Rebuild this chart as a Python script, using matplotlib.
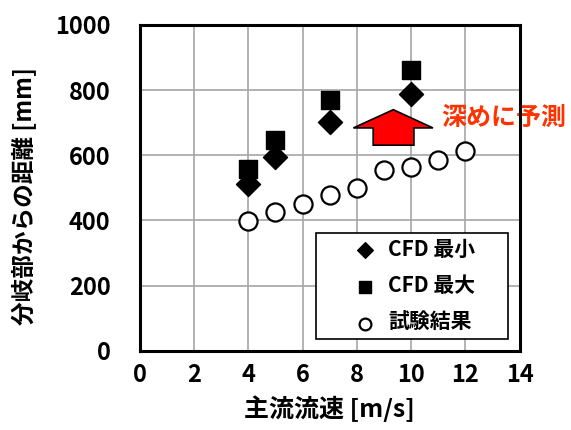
import matplotlib
matplotlib.use("Agg")
import matplotlib.pyplot as plt
from matplotlib.patches import Polygon, Rectangle

plt.rcParams['font.family'] = ['Noto Sans CJK JP', 'DejaVu Sans']

# Data
cfd_x = [4, 5, 7, 10]
cfd_min = [512, 595, 702, 789]
cfd_max = [559, 646, 771, 861]
test_x = [4, 5, 6, 7, 8, 9, 10, 11, 12]
test_y = [397, 426, 450, 479, 501, 556, 564, 585, 612]

xticks = [0, 2, 4, 6, 8, 10, 12, 14]
yticks = [0, 200, 400, 600, 800, 1000]
labels = ["CFD 最小", "CFD 最大", "試験結果"]

W, H = 571, 430
fig = plt.figure(figsize=(W/100, H/100), dpi=100)
ax = fig.add_axes([139.7/W, 1 - 350.7/H, (519.8-139.7)/W, (350.7-25)/H])

ax.set_xlim(0, 14)
ax.set_ylim(0, 1000)
ax.set_xticks(xticks)
ax.set_yticks(yticks)
ax.grid(True, color="#a6a6a6", linewidth=1.2)
ax.set_axisbelow(True)
for s in ax.spines.values():
    s.set_linewidth(2.2)
    s.set_color("black")
    s.set_zorder(7)
ax.tick_params(length=0, labelsize=17)
ax.tick_params(axis="y", pad=21)
ax.tick_params(axis="x", pad=9)
for lab in ax.get_xticklabels() + ax.get_yticklabels():
    lab.set_fontweight("bold")

ax.scatter(cfd_x, cfd_min, marker="D", s=150, color="black", label=labels[0], zorder=3)
ax.scatter(cfd_x, cfd_max, marker="s", s=180, color="black", label=labels[1], zorder=3)
ax.scatter(test_x, test_y, marker="o", s=170, facecolor="white", edgecolor="black",
           linewidths=1.6, label=labels[2], zorder=3)

# Arrow annotation (red up arrow)
arrow = Polygon([(8.6, 631), (10.1, 631), (10.1, 684), (10.8, 684), (9.34, 740),
                 (7.87, 684), (8.6, 684)], closed=True, facecolor="#ff0000",
                edgecolor="black", linewidth=1.2, zorder=4)
ax.add_patch(arrow)
ax.text(11.1, 716, "深めに予測", color="#ff3300", fontsize=18, fontweight="bold",
        va="center", ha="left", clip_on=False)

# Legend frame
frame = Rectangle((316/W, 1 - 339/H), (508-316)/W, (339-233)/H,
                  transform=fig.transFigure, facecolor="white", edgecolor="black",
                  linewidth=1.2, zorder=5, clip_on=False)
ax.add_patch(frame)
leg = ax.legend(loc="center", bbox_to_anchor=(414/W, 1 - 286/H),
                bbox_transform=fig.transFigure, frameon=False,
                labelspacing=0.75, handletextpad=0.5, handlelength=1.2,
                prop={"weight": "bold", "size": 15}, markerscale=0.65)
leg.set_zorder(6)

ax.set_xlabel("主流流速 [m/s]", fontsize=18, fontweight="bold", labelpad=6)
ax.set_ylabel("分岐部からの距離 [mm]", fontsize=17, fontweight="bold")
ax.yaxis.set_label_coords(-0.27, 0.475)

fig.savefig("out.png", dpi=100)
